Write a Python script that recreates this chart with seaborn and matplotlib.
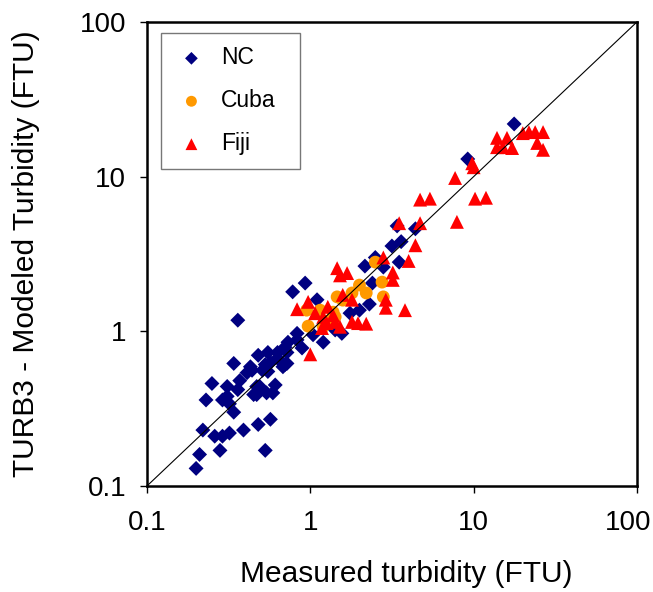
import numpy as np
import pandas as pd
import seaborn as sns
import matplotlib.pyplot as plt
from matplotlib.transforms import ScaledTranslation

# Datos (FTU)
nc_meas = [0.93, 0.78, 0.36, 0.48, 0.34, 0.63, 0.70, 0.83, 0.89, 0.25,
           0.23, 0.43, 0.41, 0.37, 0.31, 0.31, 0.34, 0.47, 0.47, 0.55,
           0.54, 0.61, 0.59, 0.68, 0.22, 0.26, 0.29, 0.32, 0.39, 0.48,
           0.57, 0.28, 0.53, 0.21, 0.20, 0.32, 0.29, 0.36, 0.44, 0.53,
           0.57, 0.45, 0.49, 0.55, 0.73, 0.72, 0.63, 0.70, 0.51, 1.20,
           2.16, 2.5, 3.16, 3.6, 3.4, 4.4, 3.5, 2.8, 2.4, 2.3,
           2.0, 1.1, 1.56, 0.83, 0.72, 1.75, 1.42, 1.04, 1.37, 17.7,
           9.2]
nc_model = [2.05, 1.80, 1.18, 0.70, 0.62, 0.73, 0.79, 0.88, 0.78, 0.46,
            0.36, 0.59, 0.54, 0.48, 0.44, 0.38, 0.30, 0.44, 0.39, 0.55,
            0.40, 0.45, 0.40, 0.59, 0.23, 0.21, 0.21, 0.22, 0.23, 0.25,
            0.27, 0.17, 0.17, 0.16, 0.13, 0.34, 0.36, 0.42, 0.56, 0.61,
            0.63, 0.39, 0.44, 0.73, 0.85, 0.73, 0.67, 0.61, 0.56, 0.85,
            2.64, 3.0, 3.56, 3.8, 4.8, 4.6, 2.8, 2.6, 2.05, 1.5,
            1.37, 1.6, 0.97, 0.97, 0.62, 1.31, 1.02, 0.95, 1.10, 21.9,
            13.0]

cuba_meas = [2.5, 2.75, 2.0, 2.2, 1.8, 1.46, 2.8, 1.58, 0.95, 1.15,
             1.38, 0.97, 1.2, 1.42, 1.32]
cuba_model = [2.8, 2.08, 1.99, 1.77, 1.77, 1.67, 1.67, 1.59, 1.37, 1.37,
              1.33, 1.08, 1.07, 1.24, 1.18]

fiji_meas = [21.8, 23.8, 26.6, 20.0, 13.9, 16.0, 13.9, 15.1, 17.2, 24.5,
             26.6, 9.8, 10.0, 7.7, 5.4, 4.7, 10.2, 11.9, 7.9, 4.7,
             3.5, 4.4, 4.0, 2.8, 3.2, 3.2, 1.46, 1.68, 1.52, 1.58,
             0.97, 0.83, 1.07, 1.28, 1.38, 1.8, 2.9, 2.9, 3.8, 1.18,
             1.42, 1.52, 1.8, 1.96, 2.2, 1.0, 1.26, 1.2]
fiji_model = [19.4, 19.4, 19.4, 19.1, 17.8, 17.8, 15.5, 15.5, 15.3, 16.5,
              14.9, 12.2, 11.5, 9.8, 7.2, 7.1, 7.2, 7.3, 5.1, 5.0,
              5.0, 3.6, 2.85, 3.0, 2.4, 2.15, 2.56, 2.38, 2.3, 1.72,
              1.55, 1.39, 1.31, 1.44, 1.27, 1.6, 1.6, 1.42, 1.37, 1.05,
              1.15, 1.07, 1.15, 1.13, 1.12, 0.71, 1.13, 1.24]

ticks = [0.1, 1, 10, 100]
tick_labels = ['0.1', '1', '10', '100']

df = pd.concat([
    pd.DataFrame({'Medido': nc_meas, 'Modelado': nc_model, 'Sitio': 'NC'}),
    pd.DataFrame({'Medido': cuba_meas, 'Modelado': cuba_model, 'Sitio': 'Cuba'}),
    pd.DataFrame({'Medido': fiji_meas, 'Modelado': fiji_model, 'Sitio': 'Fiji'}),
])

sns.set_style('white')
plt.rcParams['font.family'] = ['Liberation Sans', 'DejaVu Sans']
plt.rcParams['text.color'] = 'black'
plt.rcParams['axes.labelcolor'] = 'black'
plt.rcParams['xtick.color'] = 'black'
plt.rcParams['ytick.color'] = 'black'

fig = plt.figure(figsize=(6.53, 5.92), dpi=100)
ax = fig.add_axes([0.225, 0.179, 0.7505, 0.784])

estilos = {
    'NC': dict(marker='D', color='#000080', s=58),
    'Cuba': dict(marker='o', color='#ff9900', s=85),
    'Fiji': dict(marker='^', color='#ff0000', s=100),
}
for sitio, est in estilos.items():
    sub = df[df['Sitio'] == sitio]
    sns.scatterplot(data=sub, x='Medido', y='Modelado', ax=ax, label=sitio,
                    marker=est['marker'], color=est['color'], s=est['s'],
                    edgecolor='none', linewidth=0, zorder=3)

# Linea 1:1
ax.plot([0.1, 100], [0.1, 100], color='black', linewidth=0.8, zorder=4)

ax.set_xscale('log')
ax.set_yscale('log')
ax.set_xlim(0.1, 100)
ax.set_ylim(0.1, 100)
ax.set_xticks(ticks)
ax.set_yticks(ticks)
ax.set_xticklabels(tick_labels)
ax.set_yticklabels(tick_labels)
ax.minorticks_off()
ax.tick_params(axis='both', which='major', direction='out', length=5,
               width=1, color='black', labelsize=20, bottom=True, left=True)
ax.tick_params(axis='x', pad=12)
ax.tick_params(axis='y', pad=10)

# la etiqueta "100" del eje x queda algo desplazada para caber
ultima = ax.get_xticklabels()[-1]
ultima.set_transform(ultima.get_transform() + ScaledTranslation(-0.09, 0, fig.dpi_scale_trans))

for sp in ax.spines.values():
    sp.set_color('black')
    sp.set_linewidth(1.8)

ax.set_xlabel('Measured turbidity (FTU)', fontsize=21.5)
ax.set_ylabel('TURB3 - Modeled Turbidity (FTU)', fontsize=21.5)
ax.xaxis.set_label_coords(0.529, -0.16)
ax.yaxis.set_label_coords(-0.218, 0.5)

leg = ax.legend(loc='upper left', bbox_to_anchor=(0.0286, 0.5, 0.284, 0.476),
                mode='expand', fontsize=16.5, frameon=True, fancybox=False,
                edgecolor='#555555', labelspacing=0.87, borderpad=0.58,
                handlelength=1.5, handletextpad=0.55, borderaxespad=0,
                markerscale=0.85)
leg.get_frame().set_linewidth(1.0)

plt.savefig('out.png', dpi=100)
plt.close()
